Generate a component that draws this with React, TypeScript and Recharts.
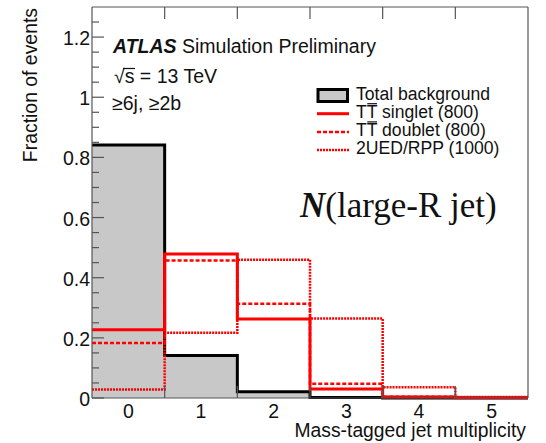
import { ComposedChart, Area, Line, XAxis, YAxis } from "recharts";

// bin contents, one value per mass-tagged jet multiplicity bin
const multiplicity = [0, 1, 2, 3, 4, 5];
const totalBackground = [0.841, 0.141, 0.021, 0.002, 0, 0];
const ttSinglet = [0.227, 0.479, 0.263, 0.03, 0.003, 0.001];
const ttDoublet = [0.183, 0.457, 0.313, 0.047, 0.004, 0.001];
const ued2Rpp = [0.028, 0.217, 0.46, 0.264, 0.036, 0.003];

const yMajorTicks = [0, 0.2, 0.4, 0.6, 0.8, 1, 1.2];
const yMinorTicks = [
  0.05, 0.1, 0.15, 0.25, 0.3, 0.35, 0.45, 0.5, 0.55, 0.65, 0.7, 0.75, 0.85,
  0.9, 0.95, 1.05, 1.1, 1.15, 1.25,
];
const binEdges = [0.5, 1.5, 2.5, 3.5, 4.5];

const SANS = "'Liberation Sans', Arial, sans-serif";
const SERIF = "'Liberation Serif', 'Times New Roman', serif";
const FRAME = "#555";
const TEXT = "#111";

// step table: each bin starts at its low edge, plus a closing point at the last high edge
const data = multiplicity.map((m, i) => ({
  x: m - 0.5,
  bkg: totalBackground[i],
  singlet: ttSinglet[i],
  doublet: ttDoublet[i],
  rpp: ued2Rpp[i],
}));
const last = multiplicity.length - 1;
data.push({
  x: multiplicity[last] + 0.5,
  bkg: totalBackground[last],
  singlet: ttSinglet[last],
  doublet: ttDoublet[last],
  rpp: ued2Rpp[last],
});

const yTicks = [...yMajorTicks, ...yMinorTicks].sort((a, b) => a - b);
const isMajor = (v: number) => yMajorTicks.some((t) => Math.abs(t - v) < 1e-6);

const LeftTick = (props: any) => {
  const { x, y, payload } = props;
  const axisX = x + 4;
  const major = isMajor(payload.value);
  return (
    <g>
      <line x1={axisX} x2={axisX + (major ? 12 : 7)} y1={y} y2={y} stroke={FRAME} strokeWidth={1.2} />
      {major && (
        <text x={axisX - 2} y={y + 8} textAnchor="end" fontFamily={SANS} fontSize={19.5} fill={TEXT}>
          {String(payload.value)}
        </text>
      )}
    </g>
  );
};

const RightTick = (props: any) => {
  const { x, y, payload } = props;
  const axisX = x - 4;
  const major = isMajor(payload.value);
  return <line x1={axisX} x2={axisX - (major ? 12 : 7)} y1={y} y2={y} stroke={FRAME} strokeWidth={1.2} />;
};

const BottomTick = (props: any) => {
  const { x, y, payload } = props;
  const axisY = y - 4;
  if (Number.isInteger(payload.value)) {
    return (
      <text x={x} y={axisY + 20} textAnchor="middle" fontFamily={SANS} fontSize={19.5} fill={TEXT}>
        {String(payload.value)}
      </text>
    );
  }
  return <line x1={x} x2={x} y1={axisY} y2={axisY - 12} stroke={FRAME} strokeWidth={1.2} />;
};

const TopTick = (props: any) => {
  const { x, y } = props;
  const axisY = y + 4;
  return <line x1={x} x2={x} y1={axisY} y2={axisY + 12} stroke={FRAME} strokeWidth={1.2} />;
};

const legendRows = [
  { name: "Total background", kind: "box" },
  { name: "TT singlet (800)", kind: "solid" },
  { name: "TT doublet (800)", kind: "dashed" },
  { name: "2UED/RPP (1000)", kind: "dotted" },
];

const LEGEND_FONT = 17.6;

function Annotations() {
  return (
    <svg
      width={546}
      height={443}
      style={{ position: "absolute", left: 0, top: 0, pointerEvents: "none", overflow: "visible" }}
    >
      <text x={113} y={53} fontFamily={SANS} fontSize={19.5} fill={TEXT}>
        <tspan fontWeight="bold" fontStyle="italic">ATLAS</tspan> Simulation Preliminary
      </text>
      <text x={114} y={83} fontFamily={SANS} fontSize={19.5} fill={TEXT}>
        √s = 13 TeV
      </text>
      {/* radical bar over the s */}
      <line x1={123} x2={135} y1={68.5} y2={68.5} stroke={TEXT} strokeWidth={1.2} />
      <text x={112} y={110} fontFamily={SANS} fontSize={19.5} fill={TEXT}>
        ≥6j, ≥2b
      </text>
      <text x={300} y={217} fontFamily={SERIF} fontSize={35} fill={TEXT}>
        <tspan fontWeight="bold" fontStyle="italic">N</tspan>(large-R jet)
      </text>
      <text x={526} y={437} textAnchor="end" fontFamily={SANS} fontSize={19.3} fill={TEXT}>
        Mass-tagged jet multiplicity
      </text>
      <text
        x={0}
        y={0}
        transform="translate(37,8) rotate(-90)"
        textAnchor="end"
        fontFamily={SANS}
        fontSize={19.4}
        fill={TEXT}
      >
        Fraction of events
      </text>

      {legendRows.map((r, i) => {
        const base = 99.5 + i * 18.2;
        const cy = base - 4;
        const bar = r.name.startsWith("TT");
        const tW = 0.611 * LEGEND_FONT;
        return (
          <g key={r.name}>
            {r.kind === "box" ? (
              <rect x={318} y={cy - 6} width={29.5} height={12} fill="#c8c8c8" stroke="#000" strokeWidth={3} />
            ) : (
              <line
                x1={317}
                x2={349}
                y1={cy}
                y2={cy}
                stroke="#ff0000"
                strokeWidth={r.kind === "solid" ? 3 : 2.5}
                strokeDasharray={r.kind === "dashed" ? "4 2" : r.kind === "dotted" ? "2 1" : undefined}
              />
            )}
            <text x={356} y={base} fontFamily={SANS} fontSize={LEGEND_FONT} fill={TEXT}>
              {r.name}
            </text>
            {/* anti-top bar over the second T */}
            {bar && (
              <line
                x1={356 + tW + 0.5}
                x2={356 + 2 * tW - 0.5}
                y1={base - 14}
                y2={base - 14}
                stroke={TEXT}
                strokeWidth={1.2}
              />
            )}
          </g>
        );
      })}
    </svg>
  );
}

export default function App() {
  return (
    <div style={{ position: "absolute", left: 0, top: 0, width: 546, height: 443, background: "#fff" }}>
      <ComposedChart width={546} height={443} data={data} margin={{ top: 0, right: 0, bottom: 0, left: 0 }}>
        <XAxis
          dataKey="x"
          type="number"
          domain={[-0.5, 5.5]}
          ticks={[0, 0.5, 1, 1.5, 2, 2.5, 3, 3.5, 4, 4.5, 5]}
          interval={0}
          height={45}
          tickSize={0}
          tickMargin={4}
          tick={<BottomTick />}
          axisLine={{ stroke: FRAME, strokeWidth: 1.2 }}
          tickLine={false}
        />
        <XAxis
          xAxisId="top"
          orientation="top"
          dataKey="x"
          type="number"
          domain={[-0.5, 5.5]}
          ticks={binEdges}
          interval={0}
          height={7}
          tickSize={0}
          tickMargin={4}
          tick={<TopTick />}
          axisLine={{ stroke: FRAME, strokeWidth: 1.2 }}
          tickLine={false}
        />
        <YAxis
          type="number"
          domain={[0, 1.3]}
          ticks={yTicks}
          interval={0}
          width={92}
          tickSize={0}
          tickMargin={4}
          tick={<LeftTick />}
          axisLine={{ stroke: FRAME, strokeWidth: 1.2 }}
          tickLine={false}
        />
        <YAxis
          yAxisId="right"
          orientation="right"
          type="number"
          domain={[0, 1.3]}
          ticks={yTicks}
          interval={0}
          width={18}
          tickSize={0}
          tickMargin={4}
          tick={<RightTick />}
          axisLine={{ stroke: FRAME, strokeWidth: 1.2 }}
          tickLine={false}
        />
        <Area
          dataKey="bkg"
          type="stepAfter"
          fill="#c8c8c8"
          fillOpacity={1}
          stroke="#000"
          strokeWidth={3}
          baseValue={0}
          dot={false}
          activeDot={false}
          isAnimationActive={false}
        />
        <Line dataKey="rpp" type="stepAfter" stroke="#ff0000" strokeWidth={2.5} strokeDasharray="2 1" dot={false} activeDot={false} isAnimationActive={false} />
        <Line dataKey="doublet" type="stepAfter" stroke="#ff0000" strokeWidth={2.5} strokeDasharray="4 2" dot={false} activeDot={false} isAnimationActive={false} />
        <Line dataKey="singlet" type="stepAfter" stroke="#ff0000" strokeWidth={3} dot={false} activeDot={false} isAnimationActive={false} />
      </ComposedChart>
      <Annotations />
    </div>
  );
}
